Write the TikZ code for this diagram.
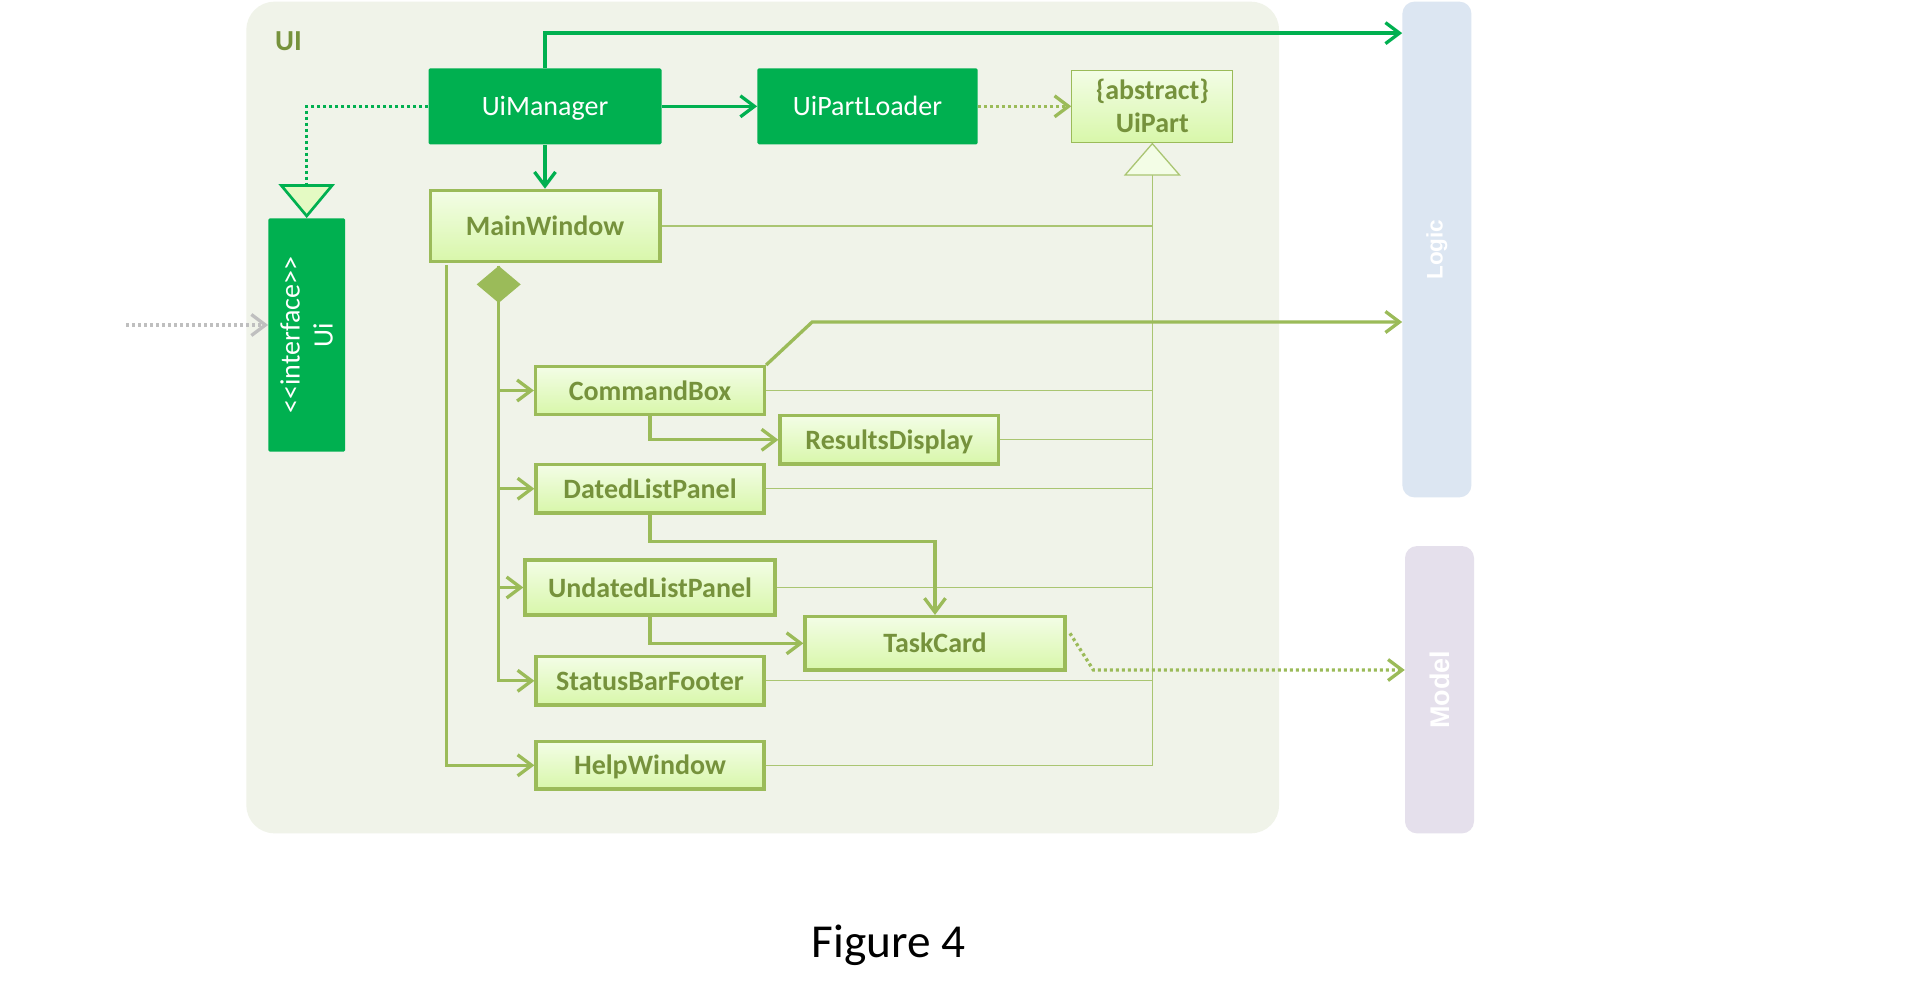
\documentclass[tikz,border=0pt]{standalone}
\usepackage{fontspec}
\setmainfont{Carlito}
\newfontfamily\layerfont{Liberation Sans}
\usetikzlibrary{arrows.meta,shapes.geometric}
\definecolor{uigreen}{RGB}{0,176,80}
\definecolor{uiolive}{RGB}{155,187,89}
\definecolor{uitext}{RGB}{118,146,60}
\definecolor{uiback}{RGB}{240,243,233}
\definecolor{parttop}{RGB}{243,253,230}
\definecolor{partbot}{RGB}{216,247,170}
\definecolor{headfill}{RGB}{228,250,195}
\definecolor{logicback}{RGB}{220,230,242}
\definecolor{modelback}{RGB}{229,224,236}
\definecolor{callgrey}{RGB}{191,191,191}
\begin{document}
\begin{tikzpicture}[x=1bp, y=-1bp, node distance=100bp, auto,
  >={Straight Barb[length=14bp, width=21bp]},
  manager/.style={fill=uigreen, text=white, rounded corners=1.5bp, inner sep=0pt,
    minimum width=233bp, minimum height=76bp, text height=19bp, text depth=0bp,
    font=\fontsize{28bp}{33bp}\selectfont},
  part/.style={draw=uiolive, line width=3.3bp, top color=parttop, bottom color=partbot,
    text=uitext, inner sep=0pt, minimum width=228bp, minimum height=48.3bp,
    text height=19bp, text depth=0bp, font=\fontsize{28bp}{33bp}\selectfont\bfseries},
  tier/.style={rounded corners=12bp, inner sep=0pt, minimum width=69bp},
  tiername/.style={rotate=90, text=white, font=\layerfont\bfseries\fontsize{#1}{30bp}\selectfont},
  link/.style={line width=3.3bp, ->},
  dotline/.style={dash pattern=on 3bp off 3bp},
  extends/.style={draw=uiolive!85, line width=1.3bp},
]
\fill[white] (0,0) rectangle (1911,981);
\fill[uiback, rounded corners=28bp] (246.4,1.7) rectangle (1279,833.3);
\node (uilabel) [text=uitext, font=\fontsize{29bp}{33bp}\selectfont\bfseries] at (288.5,41.5) {UI};
\node (logic) [tier, fill=logicback, minimum height=495.7bp, label={[tiername=22.5bp]center:Logic}] at (1436.9,249.5) {};
\node (model) [tier, fill=modelback, minimum height=287.3bp, label={[tiername=27bp]center:Model}] at (1439.5,689.7) {};

\node (uimanager) [manager] at (545,106.3) {UiManager};
\node (uipartloader) [manager, right of=uimanager, node distance=322.5bp, minimum width=220.4bp] {UiPartLoader};
\node (uipart) [part, right of=uipartloader, node distance=284.8bp, line width=1bp, minimum width=161bp,
  minimum height=71.7bp, text height=, text depth=, align=center] {\{abstract\}\\UiPart};
\node (mainwindow) [part, below of=uimanager, node distance=119.7bp, minimum width=229.7bp, minimum height=71.3bp] {MainWindow};
\node (ui) [manager, minimum width=76.7bp, minimum height=233.4bp,
  label={[rotate=90, align=center, text=white, font=\fontsize{28bp}{33bp}\selectfont]center:{<\kern0pt<interface>\kern0pt>\\Ui}}] at (306.7,335) {};
\node (commandbox) [part, minimum width=229bp, minimum height=47.7bp] at (650,390.5) {CommandBox};
\node (datedlistpanel) [part, below of=commandbox, node distance=98.2bp] {DatedListPanel};
\node (undatedlistpanel) [part, below of=datedlistpanel, node distance=98.8bp, minimum width=250bp, minimum height=55bp] {UndatedListPanel};
\node (statusbarfooter) [part, below of=undatedlistpanel, node distance=93.3bp] {StatusBarFooter};
\node (helpwindow) [part, below of=statusbarfooter, node distance=84.5bp, minimum height=47.4bp] {HelpWindow};
\node (resultsdisplay) [part, minimum width=218.4bp, minimum height=48.4bp] at (889.2,439.8) {ResultsDisplay};
\node (taskcard) [part, minimum width=260bp, minimum height=53.4bp] at (935,643.3) {TaskCard};
\coordinate (mwfoot) at ([xshift=-46.3bp, yshift=-2.6bp]mainwindow.south);
\coordinate (mwleft) at ([xshift=-98.3bp, yshift=-1.6bp]mainwindow.south);
\coordinate (uicaller) at (126.3,325);

\draw[extends] (mainwindow.east) -- (mainwindow.east -| uipart.south);
\draw[extends] (commandbox.east) -- (commandbox.east -| uipart.south);
\draw[extends] (resultsdisplay.east) -- (resultsdisplay.east -| uipart.south);
\draw[extends] (datedlistpanel.east) -- (datedlistpanel.east -| uipart.south);
\draw[extends] (undatedlistpanel.east) -- (undatedlistpanel.east -| uipart.south);
\draw[extends] (statusbarfooter.east) -- (statusbarfooter.east -| uipart.south);
\draw[extends, -{Triangle[length=33bp, width=57bp, fill=parttop]}] (helpwindow.east) -| (uipart.south);

\draw[link, uigreen] (uimanager) -- (uipartloader);
\draw[link, uigreen] (uimanager) -- (mainwindow);
\draw[link, uigreen] (uimanager.north) -- ++(0,-35) coordinate (umtop) -- (umtop -| logic.west);
\draw[link, uiolive, dotline] (uipartloader) -- (uipart);
\draw[uigreen, line width=2.7bp, dotline, -{Triangle[length=34bp, width=56bp, fill=headfill]}] (uimanager.west) -| (ui.north);
\draw[link, callgrey, dotline] (uicaller) -- (uicaller -| ui.west);

\draw[link, uiolive] (mwfoot) |- (commandbox);
\draw[link, uiolive] (mwfoot) |- (datedlistpanel);
\draw[link, uiolive] (mwfoot) |- (undatedlistpanel);
\draw[link, uiolive, {Diamond[length=37bp, width=44bp]}->] (mwfoot) |- (statusbarfooter);
\draw[link, uiolive] (mwleft) |- (helpwindow);
\draw[link, uiolive] (commandbox) |- (resultsdisplay);
\draw[link, uiolive] (datedlistpanel.south) -- ++(0,27.2) -| (taskcard);
\draw[link, uiolive] (undatedlistpanel) |- (taskcard);
\draw[link, uiolive] (commandbox.north east) -- ++(46,-43) coordinate (cbturn) -- (cbturn -| logic.west);
\draw[link, uiolive, dotline] ([xshift=3.3bp, yshift=10bp]taskcard.east) -- ++(23.4,36.7) coordinate (tcturn) -- (tcturn -| model.west);

\node (caption) [anchor=base, font=\fontsize{47.3bp}{50bp}\selectfont] at (888.6,957.3) {Figure 4};
\end{tikzpicture}
\end{document}
